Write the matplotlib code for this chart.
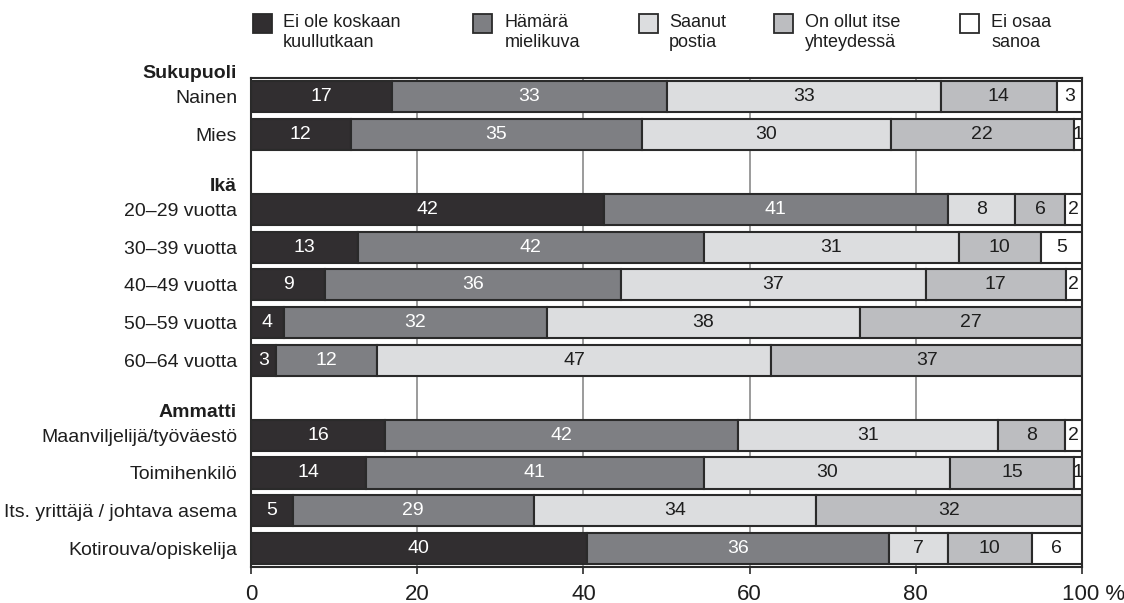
import numpy as np
import matplotlib.pyplot as plt
import matplotlib.transforms as mtrans
from matplotlib.patches import Rectangle

plt.rcParams['font.family'] = ['Liberation Sans', 'DejaVu Sans']

# data
series_names = ['Ei ole koskaan\nkuullutkaan', 'Hämärä\nmielikuva', 'Saanut\npostia',
                'On ollut itse\nyhteydessä', 'Ei osaa\nsanoa']
groups = ['Sukupuoli', 'Ikä', 'Ammatti']
group_rows = [
    ['Nainen', 'Mies'],
    ['20–29 vuotta', '30–39 vuotta', '40–49 vuotta', '50–59 vuotta', '60–64 vuotta'],
    ['Maanviljelijä/työväestö', 'Toimihenkilö', 'Its. yrittäjä / johtava asema', 'Kotirouva/opiskelija'],
]
ei_ole = [17, 12, 42, 13, 9, 4, 3, 16, 14, 5, 40]
hamara = [33, 35, 41, 42, 36, 32, 12, 42, 41, 29, 36]
saanut = [33, 30, 8, 31, 37, 38, 47, 31, 30, 34, 7]
yhteys = [14, 22, 6, 10, 17, 27, 37, 8, 15, 32, 10]
ei_osaa = [3, 1, 2, 5, 2, 0, 0, 2, 1, 0, 6]
xticks = [0, 20, 40, 60, 80, 100]

series = [ei_ole, hamara, saanut, yhteys, ei_osaa]
colors = ['#312e30', '#7e7f83', '#dcdddf', '#bcbdc0', '#ffffff']
txt_colors = ['white', 'white', '#1e1e1e', '#1e1e1e', '#1e1e1e']
edge = '#2a2a2a'
dark = '#1e1e1e'

# row positions: one blank slot before each group header (except first)
ypos, labels, headers = [], [], []
pos = 0
for gi, (g, rws) in enumerate(zip(groups, group_rows)):
    if gi > 0:
        pos += 1
    headers.append((g, pos - 0.62))
    for r in rws:
        ypos.append(pos)
        labels.append(r)
        pos += 1
ypos = np.array(ypos, dtype=float)

# rounded shares do not always add to 100 -> scale each row to full width
totals = np.sum(np.array(series, dtype=float), axis=0)

fig = plt.figure(figsize=(11.24, 6.03), dpi=100)
ax = fig.add_axes([251 / 1124, 1 - 567 / 603, (1082 - 251) / 1124, (567 - 78) / 603])

left = np.zeros(len(ypos))
for vals, col, tcol in zip(series, colors, txt_colors):
    vals = np.array(vals, dtype=float)
    w = vals / totals * 100
    ax.barh(ypos, w, left=left, height=0.83, color=col, edgecolor=edge,
            linewidth=1.5, zorder=3)
    for y, l, wi, v in zip(ypos, left, w, vals):
        if v > 0:
            ax.text(l + wi / 2, y, f'{int(v)}', ha='center', va='center',
                    color=tcol, fontsize=14, zorder=4)
    left = left + w

ax.set_xlim(0, 100)
ax.set_ylim(12.5, -0.5)
ax.set_yticks(ypos)
ax.set_yticklabels(labels, fontsize=14, color=dark)
ax.tick_params(axis='y', length=0, pad=10)
ax.set_xticks(xticks)
ax.set_xticklabels([str(t) for t in xticks[:-1]] + ['100 %'], fontsize=16, color=dark)
ax.tick_params(axis='x', length=5, width=1.2, color=edge, pad=7)
last = ax.get_xticklabels()[-1]
last.set_transform(last.get_transform() + mtrans.ScaledTranslation(8 / 72, 0, fig.dpi_scale_trans))

for t in xticks[1:-1]:
    ax.axvline(t, color='#8a8a8a', linewidth=1.2, zorder=1)

for s in ax.spines.values():
    s.set_color(edge)
    s.set_linewidth(1.5)

for g, hy in headers:
    ax.annotate(g, xy=(0, hy), xycoords=ax.get_yaxis_transform(), xytext=(-10, 0),
                textcoords='offset points', ha='right', va='center',
                fontsize=14, fontweight='bold', color=dark, annotation_clip=False)

# legend drawn in figure pixels
hx = [253, 473, 639, 774, 960]
tx = [283, 505, 669, 805, 991]
for name, col, h, t in zip(series_names, colors, hx, tx):
    fig.add_artist(Rectangle((h / 1124, 1 - 33 / 603), 19 / 1124, 19 / 603,
                             transform=fig.transFigure, facecolor=col,
                             edgecolor=edge, linewidth=1.3))
    fig.text(t / 1124, 1 - 32.5 / 603, name, ha='left', va='center',
             fontsize=13, linespacing=1.2, color=dark)

fig.savefig('out.png', dpi=100)
